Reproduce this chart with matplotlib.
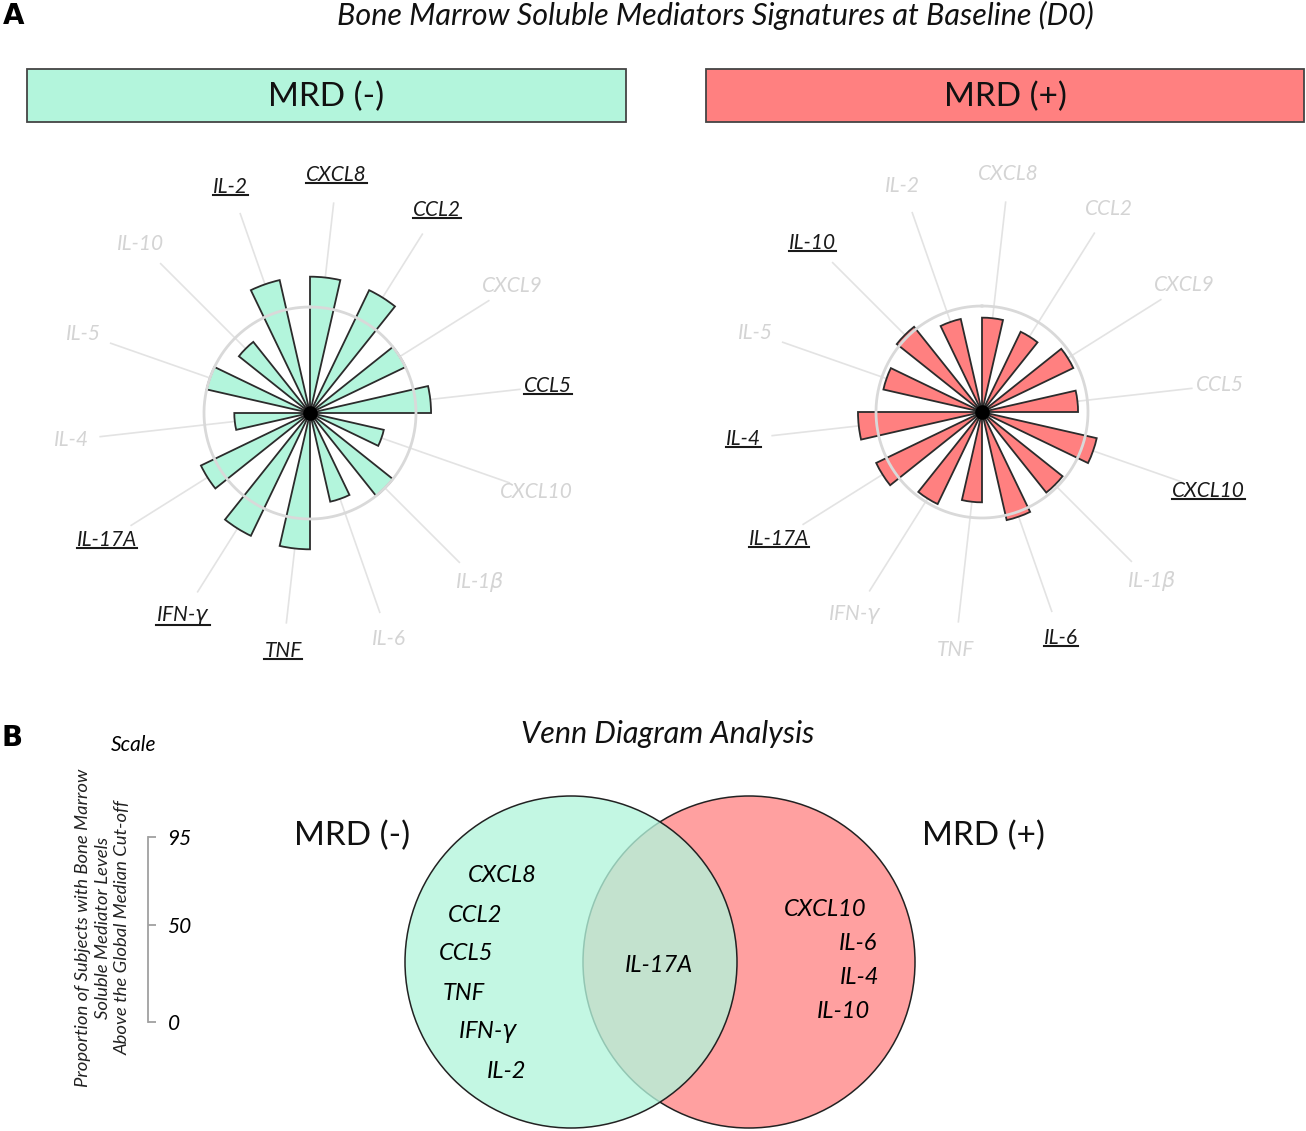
import numpy as np
import matplotlib.pyplot as plt
from matplotlib.patches import Rectangle, Circle
from matplotlib.lines import Line2D

plt.rcParams['font.family'] = ['Lato', 'DejaVu Sans']
plt.rcParams['mathtext.fontset'] = 'dejavusans'

# mediators clockwise from the top
mediators = ['CXCL8', 'CCL2', 'CXCL9', 'CCL5', 'CXCL10', 'IL-1$\\beta$', 'IL-6',
             'TNF', 'IFN-$\\gamma$', 'IL-17A', 'IL-4', 'IL-5', 'IL-10', 'IL-2']
# proportion of subjects above the global median cut-off (%)
mrd_neg = [64.3, 64.3, 50.0, 57.1, 35.7, 50.0, 42.9, 64.3, 64.3, 57.1, 35.7, 50.0, 42.9, 64.3]
mrd_pos = [44.5, 42.0, 47.8, 45.3, 55.5, 48.6, 52.3, 42.6, 48.2, 55.4, 58.5, 47.7, 51.4, 45.0]
cutoff = 50

venn_neg_only = ['CXCL8', 'CCL2', 'CCL5', 'TNF', 'IFN-$\\gamma$', 'IL-2']
venn_shared = ['IL-17A']
venn_pos_only = ['CXCL10', 'IL-6', 'IL-4', 'IL-10']
scale_ticks = [0, 50, 95]

mint = '#b3f5dc'
salmon = '#ff8080'

fig = plt.figure(figsize=(13.06, 11.31), dpi=100)

# overlay in pixel coords for panel letters, boxes and the venn diagram
ov = fig.add_axes([0, 0, 1, 1], zorder=0)
ov.set_xlim(0, 1306)
ov.set_ylim(1131, 0)
ov.axis('off')

ov.text(14, 16, 'A', fontsize=20, fontweight='bold', ha='center', va='center', family='DejaVu Sans')
ov.text(12, 738, 'B', fontsize=20, fontweight='bold', ha='center', va='center', family='DejaVu Sans')
ov.text(715, 15, 'Bone Marrow Soluble Mediators Signatures at Baseline (D0)',
        fontsize=22, fontstyle='italic', ha='center', va='center', color='#111111')

ov.add_patch(Rectangle((27, 69), 599, 53, facecolor=mint, edgecolor='#444444', lw=1.3))
ov.add_patch(Rectangle((706, 69), 598, 53, facecolor=salmon, edgecolor='#444444', lw=1.3))
ov.text(326, 97, 'MRD (-)', fontsize=24, ha='center', va='center', color='#111111')
ov.text(1005, 97, 'MRD (+)', fontsize=24, ha='center', va='center', color='#111111')

underlined = []


def radial(rect, values, color):
    ax = fig.add_axes(rect, projection='polar', zorder=1)
    n = len(values)
    step = 2 * np.pi / n
    theta = np.arange(n) * step
    mid = theta + step / 4
    ax.set_theta_zero_location('N')
    ax.set_theta_direction(-1)
    for a in mid:
        ax.plot([a, a], [0, 100], color='#e3e3e3', lw=1.2, zorder=1)
    ax.bar(theta, values, width=step / 2, align='edge', color=color,
           edgecolor='#2b2b2b', lw=1.3, zorder=2)
    ring = np.linspace(0, 2 * np.pi, 400)
    ax.plot(ring, np.full_like(ring, cutoff), color='#d9d9d9', lw=2, zorder=3)
    ax.scatter([0], [0], s=90, color='black', zorder=4)
    ax.set_ylim(0, 100)
    ax.axis('off')
    for a, name, v in zip(mid, mediators, values):
        sig = v > cutoff
        t = ax.text(a, 113, name, ha='center', va='center', fontsize=15,
                    fontstyle='italic', color='#1a1a1a' if sig else '#d4d4d4')
        if sig:
            underlined.append(t)
    return ax


radial([98 / 1306, 1 - 625 / 1131, 424 / 1306, 424 / 1131], mrd_neg, mint)
radial([770 / 1306, 1 - 624 / 1131, 424 / 1306, 424 / 1131], mrd_pos, salmon)

# panel B
ov.text(668, 734, 'Venn Diagram Analysis', fontsize=22, fontstyle='italic',
        ha='center', va='center', color='#111111')
ov.text(134, 745, 'Scale', fontsize=15, fontstyle='italic', ha='center', va='center')
ov.text(103, 928, 'Proportion of Subjects with Bone Marrow\nSoluble Mediator Levels\nAbove the Global Median Cut-off',
        rotation=90, fontsize=13.3, fontstyle='italic', ha='center', va='center',
        multialignment='center', linespacing=1.3, color='#222222')

sc = fig.add_axes([138 / 1306, 1 - 1022 / 1131, 10 / 1306, 185 / 1131], zorder=1)
sc.set_ylim(0, 95)
sc.set_yticks(scale_ticks)
sc.yaxis.tick_right()
for s in ['left', 'top', 'bottom']:
    sc.spines[s].set_visible(False)
sc.spines['right'].set_color('#a0a0a0')
sc.spines['right'].set_linewidth(1.3)
sc.set_xticks([])
sc.patch.set_alpha(0)
sc.tick_params(axis='y', direction='out', length=6, width=1.3, color='#a0a0a0',
               labelsize=15, pad=8)
for lab in sc.get_yticklabels():
    lab.set_fontstyle('italic')

ov.add_patch(Circle((749, 962), 166, facecolor=salmon, alpha=0.75, edgecolor='none', zorder=1))
ov.add_patch(Circle((749, 962), 166, facecolor='none', edgecolor='#222222', lw=1.1, zorder=1))
ov.add_patch(Circle((571, 962), 166, facecolor=mint, alpha=0.78, edgecolor='none', zorder=2))
ov.add_patch(Circle((571, 962), 166, facecolor='none', edgecolor='#222222', lw=1.1, zorder=2))

ov.text(352, 836, 'MRD (-)', fontsize=24, ha='center', va='center', color='#111111')
ov.text(983, 836, 'MRD (+)', fontsize=24, ha='center', va='center', color='#111111')

neg_x = [502, 475, 466, 464, 488, 507]
for i, name in enumerate(venn_neg_only):
    ov.text(neg_x[i], 876 + i * 39, name, fontsize=17, fontstyle='italic',
            ha='center', va='center', zorder=3)
ov.text(659, 965, venn_shared[0], fontsize=17, fontstyle='italic', ha='center', va='center', zorder=3)
pos_x = [825, 858, 860, 843]
for i, name in enumerate(venn_pos_only):
    ov.text(pos_x[i], 909 + i * 34, name, fontsize=17, fontstyle='italic',
            ha='center', va='center', zorder=3)

# underline the labels above the cut-off
fig.canvas.draw()
renderer = fig.canvas.get_renderer()
inv = fig.transFigure.inverted()
for t in underlined:
    bb = t.get_window_extent(renderer)
    (x0, y0), (x1, _) = inv.transform([(bb.x0, bb.y0 + 2), (bb.x1, bb.y0 + 2)])
    fig.add_artist(Line2D([x0, x1], [y0, y0], color='#1a1a1a', lw=1.5))

fig.savefig('out.png', dpi=100)
